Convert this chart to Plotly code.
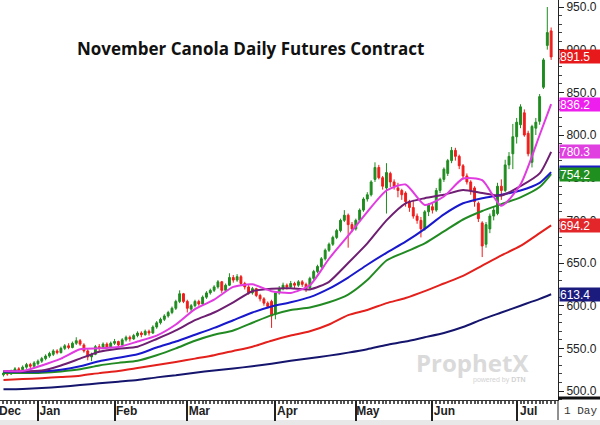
import pandas as pd
import plotly.graph_objects as go

# ---------------- data ----------------
holidays = ["2020-12-25", "2020-12-28", "2021-01-01", "2021-02-15",
            "2021-04-02", "2021-05-24", "2021-07-01"]
trade_dates = pd.bdate_range("2020-12-17", "2021-07-15", freq="C", holidays=holidays)

opens = [519, 521, 520, 523, 526, 525, 528, 531, 529, 532, 535, 538, 541, 543, 547, 545, 550, 553, 551, 556,
         559, 554, 547, 540, 543, 552, 550, 555, 551, 556, 558, 554, 560, 563, 561, 565, 568, 566, 570, 568,
         575, 580, 584, 588, 592, 597, 605, 614, 605, 596, 600, 605, 602, 610, 615, 618, 622, 628, 618, 624,
         633, 630, 634, 626, 622, 615, 620, 612, 608, 603, 605, 590, 615, 620, 624, 622, 626, 624, 628, 625,
         621, 632, 640, 646, 655, 665, 672, 680, 688, 700, 706, 695, 690, 700, 712, 725, 730, 748, 762, 750,
         738, 755, 745, 738, 735, 732, 722, 715, 705, 700, 690, 710, 716, 712, 735, 748, 755, 770, 782, 775,
         764, 752, 745, 738, 720, 697, 672, 690, 705, 708, 740, 735, 765, 778, 798, 812, 826, 802, 768, 808,
         816, 856, 905, 922]
highs = [523, 524, 525, 528, 528, 530, 533, 533, 535, 537, 540, 543, 546, 549, 549, 552, 555, 556, 558, 563,
         561, 556, 549, 545, 554, 555, 557, 557, 558, 561, 559, 562, 565, 565, 567, 570, 570, 572, 572, 577,
         582, 586, 590, 594, 599, 607, 618, 615, 607, 602, 607, 607, 612, 617, 620, 624, 630, 629, 626, 638,
         636, 637, 636, 628, 624, 622, 621, 614, 610, 605, 607, 617, 623, 627, 626, 629, 628, 630, 630, 627,
         634, 642, 648, 657, 667, 674, 682, 690, 702, 712, 708, 698, 702, 714, 727, 733, 747, 768, 765, 752,
         767, 757, 748, 744, 737, 734, 724, 724, 708, 704, 712, 720, 720, 738, 750, 762, 772, 786, 785, 777,
         766, 755, 747, 740, 722, 699, 698, 708, 716, 744, 748, 771, 780, 813, 820, 836, 830, 805, 812, 820,
         848, 890, 950, 926]
lows = [517, 518, 519, 521, 523, 524, 526, 527, 528, 530, 533, 536, 539, 541, 543, 544, 548, 549, 550, 554,
        553, 545, 536, 535, 542, 547, 549, 549, 550, 554, 551, 553, 558, 558, 560, 563, 563, 565, 565, 567,
        573, 578, 582, 586, 590, 595, 603, 603, 592, 593, 598, 600, 601, 608, 613, 616, 620, 615, 617, 623,
        627, 628, 624, 619, 613, 613, 610, 605, 600, 597, 574, 584, 613, 618, 619, 620, 620, 622, 622, 616,
        619, 630, 638, 644, 653, 663, 670, 678, 686, 698, 668, 686, 688, 698, 710, 722, 728, 745, 748, 736,
        708, 739, 736, 727, 724, 716, 710, 702, 696, 680, 688, 705, 708, 710, 732, 745, 752, 767, 770, 760,
        748, 742, 730, 716, 698, 657, 668, 685, 700, 706, 724, 733, 760, 760, 790, 808, 798, 775, 762, 800,
        812, 854, 900, 888]
closes = [521, 520, 523, 526, 525, 528, 531, 529, 533, 535, 538, 541, 544, 547, 545, 550, 553, 551, 556, 559,
          555, 547, 540, 543, 552, 550, 555, 551, 556, 558, 554, 560, 563, 561, 565, 568, 566, 570, 568, 575,
          580, 584, 588, 592, 597, 605, 614, 605, 597, 600, 605, 602, 610, 615, 618, 622, 628, 618, 624, 633,
          630, 634, 626, 622, 615, 620, 612, 608, 603, 599, 588, 615, 620, 624, 622, 626, 624, 628, 625, 620,
          632, 640, 646, 655, 665, 672, 680, 688, 700, 706, 695, 690, 700, 712, 725, 730, 745, 762, 750, 740,
          756, 745, 740, 735, 730, 722, 715, 705, 700, 690, 710, 718, 712, 735, 748, 760, 770, 782, 775, 764,
          752, 745, 735, 722, 702, 670, 695, 705, 712, 740, 735, 765, 775, 798, 815, 833, 800, 778, 810, 815,
          845, 888, 920, 891.5]

# moving averages read at every 5th trading day (+ last day)
ma_index = [0, 5, 10, 15, 20, 25, 30, 35, 40, 45, 50, 55, 60, 65, 70, 75, 80, 85, 90, 95,
            100, 105, 110, 115, 120, 125, 130, 135, 140, 143]
ma_magenta = [523.5, 523.5, 530, 538, 549, 550, 551.5, 558, 565, 578, 596, 607, 622, 625, 617, 615, 624, 655,
              682, 710, 735, 742, 718, 728, 749, 747, 717, 742, 800, 836.2]
ma_purple = [523.5, 523, 524, 530, 538, 546, 549.5, 552, 561, 571, 583, 592, 604, 617, 620, 620.5, 619, 628,
             650, 673, 700, 720, 726, 730, 735.5, 732, 729, 740, 755, 780.3]
ma_blue = [523, 522.5, 523, 525, 529, 535, 539, 543, 551, 558, 566, 574, 583, 592, 599, 604, 610, 620, 633,
           648, 662, 675, 690, 707, 720, 726, 730, 735, 744, 756.5]
ma_green = [521, 521, 521.5, 523, 525.5, 530, 533, 535.5, 542, 550, 559, 566, 571, 580, 589, 595, 598, 604,
            613, 630, 653, 663, 673, 687, 701, 711, 719, 727, 739, 754.2]
ma_red = [513, 514, 515, 516.5, 518, 521, 523.5, 527, 530.5, 534, 538, 542, 547, 552, 559, 565, 570, 578, 589,
          595, 603, 609, 617, 626, 635, 647, 659, 670, 685, 694.2]
ma_navy = [502, 502.5, 503.5, 505, 507, 509, 511, 513, 516, 518.5, 521.5, 524, 526.5, 529, 532, 535.5, 538.5,
           541.5, 545, 549, 554, 558, 563, 568, 575, 584, 592, 600, 608, 613.4]

month_ticks = ["2021-01-04", "2021-02-01", "2021-03-01", "2021-04-01", "2021-05-03", "2021-06-01", "2021-07-02"]
month_labels = ["Jan", "Feb", "Mar", "Apr", "May", "Jun", "Jul"]
y_ticks = [500, 550, 600, 650, 700, 750, 800, 850, 900, 950]

# ---------------- style ----------------
GREEN_C = "#1f8c1f"
RED_C = "#f01c1c"
ma_dates = [trade_dates[i] for i in ma_index]
ma_series = [
    (ma_navy, "#15156e"),
    (ma_red, "#e3201c"),
    (ma_green, "#228a22"),
    (ma_blue, "#1818cc"),
    (ma_purple, "#6e1f72"),
    (ma_magenta, "#e03ae0"),
]

fig = go.Figure()
fig.add_trace(go.Candlestick(
    x=trade_dates, open=opens, high=highs, low=lows, close=closes,
    increasing=dict(line=dict(color=GREEN_C, width=1), fillcolor=GREEN_C),
    decreasing=dict(line=dict(color=RED_C, width=1), fillcolor=RED_C),
    whiskerwidth=0, showlegend=False, hoverinfo="skip"))
for vals, col in ma_series:
    fig.add_trace(go.Scatter(x=ma_dates, y=vals, mode="lines",
                             line=dict(color=col, width=2, shape="spline", smoothing=0.6),
                             showlegend=False, hoverinfo="skip"))

FONT = "Liberation Sans, Arial, sans-serif"
PLOT_W = 558.0
PLOT_H = 400.0

annotations = []
# right side value labels
value_labels = [
    (613.4, "613.4", "#1b1b7e"),
    (694.2, "694.2", "#e3262a"),
    (ma_blue[-1], "756.5", "#1c1cc4"),
    (754.2, "754.2", "#1f8f1f"),
    (780.3, "780.3", "#e040e0"),
    (836.2, "836.2", "#ee1eee"),
    (891.5, "891.5", "#e8191b"),
]
for yv, txt, bg in value_labels:
    annotations.append(dict(x=1, xref="paper", xanchor="left", xshift=1, y=yv, yref="y", yanchor="middle",
                            text=txt, showarrow=False, bgcolor=bg, width=40, height=13, align="left",
                            borderpad=0, font=dict(family=FONT, size=12, color="white")))
# title
annotations.append(dict(x=250 / PLOT_W, y=1 - 48 / PLOT_H, xref="paper", yref="paper",
                        xanchor="center", yanchor="middle",
                        text="<b>November Canola Daily Futures Contract</b>", showarrow=False,
                        font=dict(family="Open Sans, sans-serif", size=17, color="#111")))
# watermark
annotations.append(dict(x=472 / PLOT_W, y=(PLOT_H - 362) / PLOT_H, xref="paper", yref="paper",
                        xanchor="center", yanchor="middle",
                        text="<b>ProphetX</b>", showarrow=False,
                        font=dict(family="Open Sans, sans-serif", size=24, color="#dadada")))
annotations.append(dict(x=528 / PLOT_W, y=(PLOT_H - 380) / PLOT_H, xref="paper", yref="paper",
                        xanchor="right", yanchor="middle",
                        text="powered by <b>DTN</b>", showarrow=False,
                        font=dict(family=FONT, size=7, color="#d2d2d2")))
# Dec label (clipped at left edge, as in the original)
annotations.append(dict(x=-3 / PLOT_W, y=-11 / PLOT_H, xref="paper", yref="paper", xanchor="left",
                        yanchor="middle", text="<b>Dec</b>", showarrow=False,
                        font=dict(family=FONT, size=12, color="#222")))
# period label
annotations.append(dict(x=562 / PLOT_W, y=-11 / PLOT_H, xref="paper", yref="paper", xanchor="left",
                        yanchor="middle", text="1 Day", showarrow=False,
                        font=dict(family="Liberation Mono, monospace", size=11, color="#333")))

shapes = [
    dict(type="rect", xref="paper", yref="paper", x0=-0.01, x1=600 / PLOT_W, y0=-25 / PLOT_H, y1=-20 / PLOT_H,
         line=dict(width=0), fillcolor="#e8e8e8", layer="below"),
    dict(type="line", xref="paper", yref="paper", x0=1, x1=1, y0=-20 / PLOT_H, y1=0,
         line=dict(color="#222", width=1)),
    dict(type="line", xref="paper", yref="paper", x0=1, x1=600 / PLOT_W, y0=2 / PLOT_H, y1=2 / PLOT_H,
         line=dict(color="#111", width=3)),
]

fig.update_layout(
    width=600, height=425,
    margin=dict(l=0, r=42, t=0, b=25),
    paper_bgcolor="white", plot_bgcolor="white",
    showlegend=False,
    annotations=annotations, shapes=shapes,
    xaxis=dict(
        type="date",
        range=["2020-12-16 02:10", "2021-07-16 19:00"],
        rangebreaks=[dict(bounds=["sat", "mon"]), dict(values=holidays)],
        rangeslider=dict(visible=False),
        tickmode="array", tickvals=month_ticks, ticktext=["<b>%s</b>" % m for m in month_labels],
        ticks="outside", ticklen=20, tickwidth=1.5, tickcolor="#222",
        ticklabelshift=12, ticklabelstandoff=-20,
        tickfont=dict(family=FONT, size=12, color="#222"),
        minor=dict(ticks="outside", ticklen=3, tickcolor="#555", tickmode="linear",
                   tick0="2020-12-17", dtick=86400000),
        showline=True, linecolor="#333", linewidth=1,
        showgrid=False, zeroline=False, fixedrange=True,
    ),
    yaxis=dict(
        side="right", range=[489.5, 958.2],
        tickmode="array", tickvals=y_ticks, tickformat=".1f",
        ticks="outside", ticklen=5, tickcolor="#222",
        minor=dict(ticks="outside", ticklen=3, tickcolor="#444", tickmode="linear", tick0=500, dtick=10),
        tickfont=dict(family=FONT, size=12, color="#222"),
        showline=True, linecolor="#222", linewidth=1,
        showgrid=False, zeroline=False, fixedrange=True,
    ),
)

fig.write_html("out.html", config={"displayModeBar": False},
               post_script="document.body.style.margin='0px';document.body.style.overflow='hidden';")
